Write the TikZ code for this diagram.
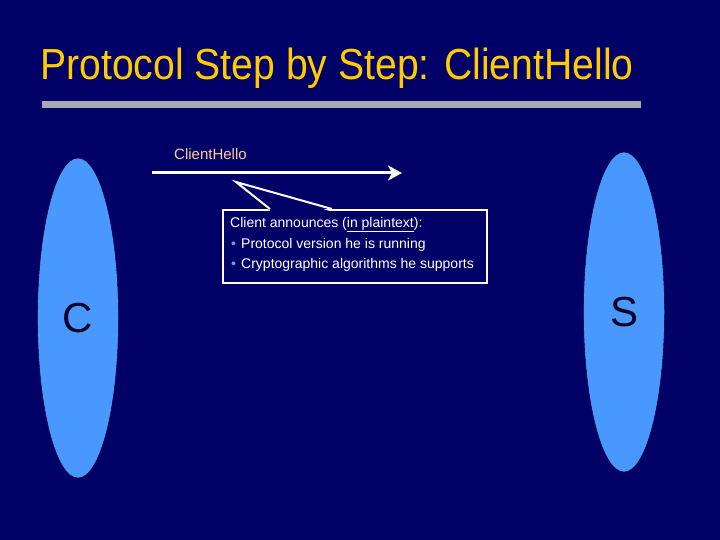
\documentclass[tikz,border=0pt]{standalone}
\usepackage{fontspec}
\setmainfont{Liberation Sans}
\newfontfamily\titlefont[FakeStretch=0.9]{Liberation Sans}
\usepackage{tikz}
\usetikzlibrary{arrows.meta,positioning,shapes.geometric,calc}
\definecolor{slidebg}{RGB}{0,0,102}
\definecolor{titleyellow}{RGB}{255,204,0}
\definecolor{partyblue}{RGB}{72,152,255}
\definecolor{partyink}{RGB}{0,0,40}
\definecolor{msgpeach}{RGB}{255,204,153}
\definecolor{bulletblue}{RGB}{90,170,230}
\definecolor{rulegray}{RGB}{168,168,180}

\begin{document}
\begin{tikzpicture}[x=1pt, y=-1pt,
  party/.style={ellipse, draw=partyink, fill=partyblue, minimum width=81pt, minimum height=320pt, inner sep=0pt, font=\fontsize{42}{42}\selectfont, text=partyink},
  msg/.style={-{Stealth[length=14pt, width=15pt, inset=4pt]}, white, line width=3pt},
  note/.style={draw=white, line width=2pt, fill=slidebg, minimum width=264pt, minimum height=73pt, inner sep=0pt},
  notetext/.style={text=white, font=\fontsize{14}{20}\selectfont, anchor=base west, inner sep=0pt}
]
\fill[slidebg] (0,0) rectangle (720,540);

% title and rule
\node[anchor=base west, inner sep=0pt, text=titleyellow, font=\titlefont\fontsize{43.5}{44}\selectfont] (title) at (40,80) {Protocol Step by Step: ClientHello};
\fill[rulegray] (42,101) rectangle (641,108);

% the two parties
\node[party] (client) at (78,318) {C};
\node[party] (server) at (624,312) {S};

% message
\coordinate (msgstart) at (152,173);
\coordinate (msgend) at (402,173);
\draw[msg] (msgstart) -- (msgend);
\node[anchor=base west, inner sep=0pt, text=msgpeach, font=\fontsize{15}{15}\selectfont] (msglabel) at (174,160) {ClientHello};

% callout
\node[note] (note) at (355,246.5) {};
\coordinate (tip) at (236,182);
\coordinate (baseL) at ($(note.north west)+(48,0)$);
\coordinate (baseR) at ($(note.north west)+(110,0)$);
\fill[slidebg] ($(baseL)+(1,2.5)$) -- (tip) -- ($(baseR)+(-1,2.5)$) -- cycle;
\draw[white, line width=2pt] (baseL) -- (tip) -- (baseR);

\node[notetext] (intro) at (230,227) {Client announces (\underline{in plaintext}):};
\node[notetext, text=bulletblue] (dotA) at (231,248) {\textbullet};
\node[notetext] (itemA) at (241,248) {Protocol version he is running};
\node[notetext, text=bulletblue] (dotB) at (231,268) {\textbullet};
\node[notetext] (itemB) at (241,268) {Cryptographic algorithms he supports};
\end{tikzpicture}
\end{document}
